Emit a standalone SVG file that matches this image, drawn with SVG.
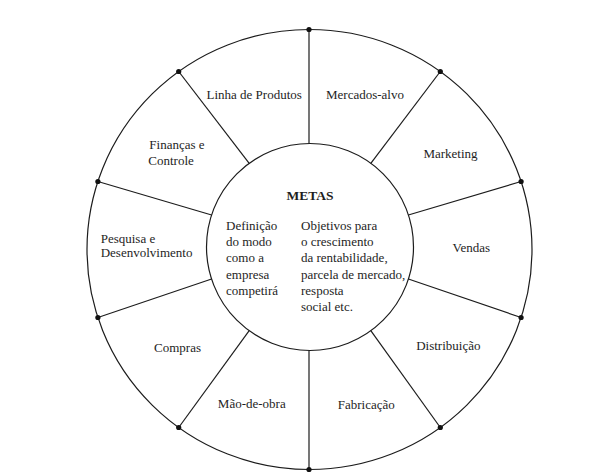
<svg xmlns="http://www.w3.org/2000/svg" width="608" height="475" viewBox="0 0 608 475">
<style>
  .ln { fill: none; stroke: #1c1c1c; stroke-width: 1.2; }
  .dot { fill: #111; }
  .t { font-family: "Liberation Serif", "Times New Roman", serif; font-size: 13px; fill: #1e1e1e; }
  .m { text-anchor: middle; }
  .b { font-weight: bold; font-size: 13.5px; }
</style>
<rect width="608" height="475" fill="#fff"/>
<g id="wheel">
  <ellipse class="ln" cx="309.5" cy="249.5" rx="222.5" ry="220"/>
</g>
<g id="connectors">
  <line class="ln" x1="309" y1="143.5" x2="309" y2="29.5"/>
  <line class="ln" x1="370.8" y1="163.3" x2="440.3" y2="71.5"/>
  <line class="ln" x1="408.4" y1="215" x2="521.1" y2="181.5"/>
  <line class="ln" x1="408.4" y1="279" x2="521.1" y2="317.5"/>
  <line class="ln" x1="370.8" y1="330.7" x2="440.3" y2="427.5"/>
  <line class="ln" x1="309" y1="350.5" x2="309" y2="469.5"/>
  <line class="ln" x1="249.2" y1="330.7" x2="178.7" y2="427.5"/>
  <line class="ln" x1="211.6" y1="279" x2="97.9" y2="317.5"/>
  <line class="ln" x1="211.6" y1="215" x2="97.9" y2="181.5"/>
  <line class="ln" x1="249.2" y1="163.3" x2="178.7" y2="71.5"/>
  <circle class="dot" cx="309" cy="29.5" r="2.6"/>
  <circle class="dot" cx="440.3" cy="71.5" r="2.6"/>
  <circle class="dot" cx="521.1" cy="181.5" r="2.6"/>
  <circle class="dot" cx="521.1" cy="317.5" r="2.6"/>
  <circle class="dot" cx="440.3" cy="427.5" r="2.6"/>
  <circle class="dot" cx="309" cy="469.5" r="2.6"/>
  <circle class="dot" cx="178.7" cy="427.5" r="2.6"/>
  <circle class="dot" cx="97.9" cy="317.5" r="2.6"/>
  <circle class="dot" cx="97.9" cy="181.5" r="2.6"/>
  <circle class="dot" cx="178.7" cy="71.5" r="2.6"/>
</g>
<g id="metas">
  <circle class="ln" cx="310" cy="247" r="103.5" fill="#fff"/>
  <text class="t m b" x="310" y="199.5">METAS</text>
  <text class="t" x="226" y="229.7">Definição</text>
  <text class="t" x="226" y="246">do modo</text>
  <text class="t" x="226" y="262.3">como a</text>
  <text class="t" x="226" y="278.6">empresa</text>
  <text class="t" x="226" y="295">competirá</text>
  <text class="t" x="301" y="229.7">Objetivos para</text>
  <text class="t" x="301" y="246">o crescimento</text>
  <text class="t" x="301" y="262.3">da rentabilidade,</text>
  <text class="t" x="301" y="278.6">parcela de mercado,</text>
  <text class="t" x="301" y="295">resposta</text>
  <text class="t" x="301" y="311.3">social etc.</text>
</g>
<g id="linha-de-produtos"><text class="t m" x="254.2" y="99">Linha de Produtos</text></g>
<g id="mercados-alvo"><text class="t m" x="365" y="99">Mercados-alvo</text></g>
<g id="marketing"><text class="t m" x="450.5" y="158">Marketing</text></g>
<g id="vendas"><text class="t m" x="471.3" y="251.7">Vendas</text></g>
<g id="distribuicao"><text class="t m" x="448.3" y="350">Distribuição</text></g>
<g id="fabricacao"><text class="t m" x="366.3" y="409">Fabricação</text></g>
<g id="mao-de-obra"><text class="t m" x="251.8" y="408.3">Mão-de-obra</text></g>
<g id="compras"><text class="t m" x="177.5" y="351.7">Compras</text></g>
<g id="pesquisa"><text class="t" x="100.7" y="242.7">Pesquisa e</text><text class="t" x="100.7" y="257.3">Desenvolvimento</text></g>
<g id="financas"><text class="t" x="149.3" y="149.3">Finanças e</text><text class="t" x="148.3" y="165">Controle</text></g>
</svg>
